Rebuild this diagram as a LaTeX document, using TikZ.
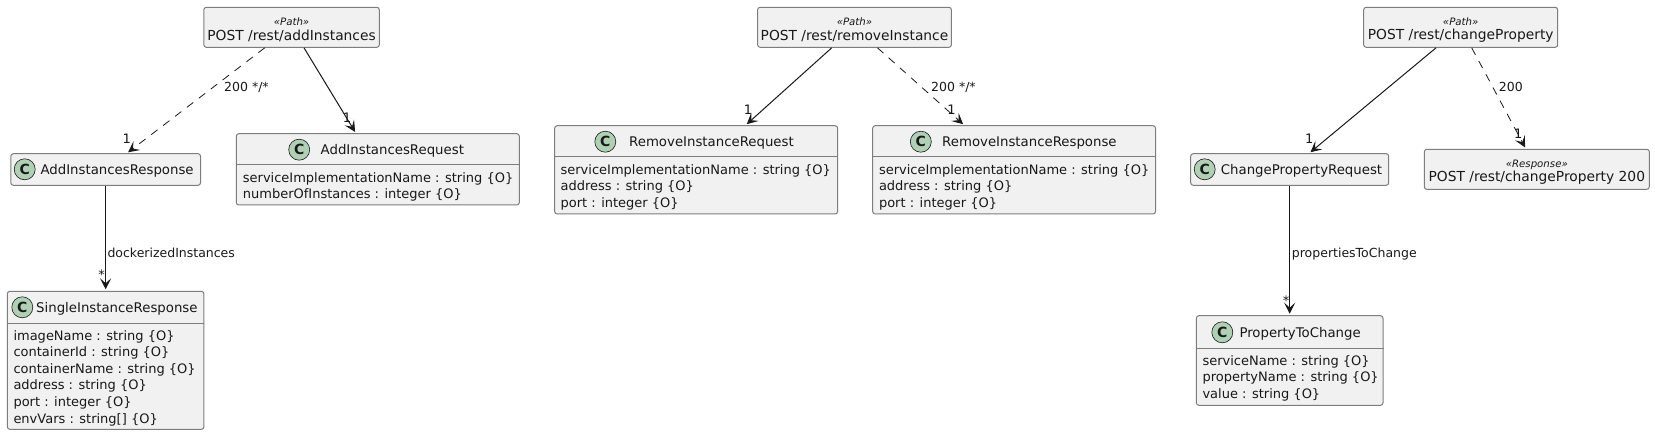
\documentclass[tikz,border=0pt]{standalone}
\usepackage{fontspec}
\setmainfont{DejaVu Sans}
\usepackage{xcolor}
\definecolor{umlfill}{RGB}{241,241,241}
\definecolor{umlline}{RGB}{125,125,125}
\definecolor{umlink}{RGB}{24,24,24}
\definecolor{umlgreen}{RGB}{173,209,178}
\usetikzlibrary{arrows.meta}
\tikzset{
  pathbox/.style={draw=umlline, fill=umlfill, rounded corners=2.5pt, line width=1pt, align=center, inner sep=0pt,
    font=\fontsize{13.8}{14.6}\selectfont, text=umlink},
  classbox/.style={draw=umlline, fill=umlfill, rounded corners=2.5pt, line width=1pt, inner sep=0pt},
  classdot/.style={circle, draw=umlink, fill=umlgreen, line width=0.6pt, minimum size=21pt, inner sep=0pt,
    font=\fontsize{14}{14}\bfseries\selectfont, text=umlink},
  classtitle/.style={anchor=west, inner sep=0pt, text height=13pt, text depth=3pt,
    font=\fontsize{13.3}{14}\selectfont, text=umlink},
  attrtext/.style={anchor=north west, inner sep=0pt, align=left, yshift=-2pt,
    font=\fontsize{13}{16.6}\selectfont, text=umlink},
  edgetext/.style={anchor=west, inner sep=0pt, text height=11pt, text depth=3pt,
    font=\fontsize{12.5}{13}\selectfont, text=umlink},
  endtext/.style={inner sep=0pt, font=\fontsize{13}{13}\selectfont, text=umlink},
  solidedge/.style={draw=umlink, line width=1pt, shorten >=1.5pt, -{Stealth[length=11pt,width=11pt,inset=5pt]}},
  dashededge/.style={solidedge, line width=0.8pt, dashed, dash pattern=on 8pt off 7pt},
  divider/.style={draw=umlline, line width=1pt}
}
\newcommand{\stereofont}{\rule{0pt}{13pt}\fontsize{10.2}{14.6}\itshape\selectfont}
\begin{document}
\begin{tikzpicture}[x=1pt, y=-1pt]
  \useasboundingbox (0,0) rectangle (1655,435);

  % addInstances
  \node[pathbox, minimum width=175.5pt, minimum height=40pt] (addpath) at (291.55,27.3)
       {{\stereofont «Path»}\\POST /rest/addInstances};
  \node[classbox, minimum width=189.7pt, minimum height=31.6pt] (addresp) at (105.65,169.5) {};
  \node[classdot] (addrespdot) at (24.7,169.3) {C};
  \node[classtitle] (addresptitle) at (40.3,169.3) {AddInstancesResponse};
  \node[classbox, minimum width=283pt, minimum height=71.3pt] (addreq) at (377.8,169.35) {};
  \draw[divider] (addreq.west |- 0,165) -- (addreq.east |- 0,165);
  \node[classdot] (addreqdot) at (299.2,149.7) {C};
  \node[classtitle] (addreqtitle) at (320.5,149.7) {AddInstancesRequest};
  \node[attrtext] (addreqattr) at (242.7,170)
       {serviceImplementationName : string \{O\}\\numberOfInstances : integer \{O\}};
  \node[classbox, minimum width=196.6pt, minimum height=138pt] (single) at (105.65,360.3) {};
  \draw[divider] (single.west |- 0,323.3) -- (single.east |- 0,323.3);
  \node[classdot] (singledot) at (22.3,307.3) {C};
  \node[classtitle] (singletitle) at (36,307.3) {SingleInstanceResponse};
  \node[attrtext] (singleattr) at (13.3,328)
       {imageName : string \{O\}\\containerId : string \{O\}\\containerName : string \{O\}\\address : string \{O\}\\port : integer \{O\}\\envVars : string[] \{O\}};

  \draw[dashededge] (addpath) -- (addresp);
  \draw[solidedge] (addpath) -- (addreq);
  \draw[solidedge] (addresp) -- (single);
  \node[edgetext] (addlabel) at (224,87.3) {200 */*};
  \node[endtext] (addrespend) at (126.8,138.3) {1};
  \node[endtext] (addreqend) at (347,117.3) {1};
  \node[edgetext] (dockerlabel) at (107.3,253.5) {dockerizedInstances};
  \node[endtext] (singleend) at (101.7,275) {*};

  % removeInstance
  \node[pathbox, minimum width=193.8pt, minimum height=40pt] (rempath) at (854.5,27.3)
       {{\stereofont «Path»}\\POST /rest/removeInstance};
  \node[classbox, minimum width=282.9pt, minimum height=88.3pt] (remreq) at (696.15,169.85) {};
  \draw[divider] (remreq.west |- 0,157) -- (remreq.east |- 0,157);
  \node[classdot] (remreqdot) at (605.3,141.7) {C};
  \node[classtitle] (remreqtitle) at (629,141.7) {RemoveInstanceRequest};
  \node[attrtext] (remreqattr) at (560.4,162)
       {serviceImplementationName : string \{O\}\\address : string \{O\}\\port : integer \{O\}};
  \node[classbox, minimum width=282.8pt, minimum height=88.3pt] (remresp) at (1014.1,169.85) {};
  \draw[divider] (remresp.west |- 0,157) -- (remresp.east |- 0,157);
  \node[classdot] (remrespdot) at (920.8,141.7) {C};
  \node[classtitle] (remresptitle) at (942,141.7) {RemoveInstanceResponse};
  \node[attrtext] (remrespattr) at (878.8,162)
       {serviceImplementationName : string \{O\}\\address : string \{O\}\\port : integer \{O\}};

  \draw[solidedge] (rempath) -- (remreq);
  \draw[dashededge] (rempath) -- (remresp);
  \node[edgetext] (remlabel) at (931,87.3) {200 */*};
  \node[endtext] (remreqend) at (748,109.3) {1};
  \node[endtext] (remrespend) at (951.4,109.3) {1};

  % changeProperty
  \node[pathbox, minimum width=194pt, minimum height=40pt] (chgpath) at (1460.7,27.3)
       {{\stereofont «Path»}\\POST /rest/changeProperty};
  \node[classbox, minimum width=198pt, minimum height=31.6pt] (chgreq) at (1289.7,169.5) {};
  \node[classdot] (chgreqdot) at (1204.7,169.3) {C};
  \node[classtitle] (chgreqtitle) at (1220.7,169.3) {ChangePropertyRequest};
  \node[pathbox, minimum width=225pt, minimum height=40pt] (chgresp) at (1536.8,169.3)
       {{\stereofont «Response»}\\POST /rest/changeProperty 200};
  \node[classbox, minimum width=186.6pt, minimum height=89.6pt] (prop) at (1289.7,360.5) {};
  \draw[divider] (prop.west |- 0,348.3) -- (prop.east |- 0,348.3);
  \node[classdot] (propdot) at (1222.3,332.3) {C};
  \node[classtitle] (proptitle) at (1239.3,332.3) {PropertyToChange};
  \node[attrtext] (propattr) at (1202.3,353)
       {serviceName : string \{O\}\\propertyName : string \{O\}\\value : string \{O\}};

  \draw[solidedge] (chgpath) -- (chgreq);
  \draw[dashededge] (chgpath) -- (chgresp);
  \draw[solidedge] (chgreq) -- (prop);
  \node[edgetext] (chglabel) at (1498.7,87.3) {200};
  \node[endtext] (chgreqend) at (1309.3,138.3) {1};
  \node[endtext] (chgrespend) at (1518.3,133.3) {1};
  \node[edgetext] (proplabel) at (1291.7,253.5) {propertiesToChange};
  \node[endtext] (propend) at (1286,300.5) {*};
\end{tikzpicture}
\end{document}
